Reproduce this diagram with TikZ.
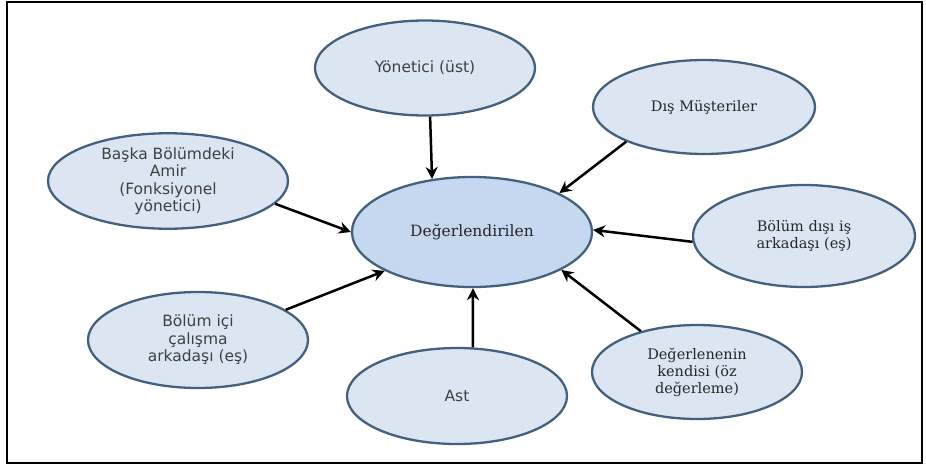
\documentclass[tikz,border=0pt]{standalone}
\usepackage{fontspec}
\setmainfont{DejaVu Serif}
\setsansfont{DejaVu Sans}
\usetikzlibrary{positioning,shapes.geometric,arrows.meta}

\definecolor{bubblefill}{HTML}{DCE6F2}
\definecolor{centerfill}{HTML}{C6D8EF}
\definecolor{bubbleline}{HTML}{43617F}

\tikzset{
  bubble/.style={ellipse, draw=bubbleline, line width=2.3pt, fill=bubblefill,
    inner sep=0pt, align=center, text=black!85,
    font=\fontsize{14.5}{17}\selectfont},
  sansbubble/.style={bubble, text=black!75,
    font=\sffamily\fontsize{15.5}{17.5}\selectfont},
  feedback/.style={-{Stealth[length=12pt,width=12pt]}, line width=2.5pt},
}

\begin{document}
\begin{tikzpicture}[x=1pt, y=-1pt, on grid]
        \useasboundingbox (0,0) rectangle (926,466);
        \draw[line width=2.5pt] (7,2) rectangle (922,463);

        \node[bubble, fill=centerfill, minimum width=240pt, minimum height=110pt,
          font=\fontsize{15.5}{17}\selectfont]
          (deg) at (472,232) {Değerlendirilen};
        \node[sansbubble, minimum width=220pt, minimum height=95pt,
          above left=164pt and 47pt of deg] (yon) {Yönetici (üst)};
        \node[bubble, minimum width=222pt, minimum height=94pt,
          above right=125pt and 232pt of deg] (dis) {Dış Müşteriler};
        \node[sansbubble, minimum width=240pt, minimum height=92pt,
          above left=51pt and 304pt of deg] (baska)
          {Başka Bölümdeki\\Amir\\(Fonksiyonel\\yönetici)};
        \node[bubble, minimum width=222pt, minimum height=102pt,
          below right=4pt and 332pt of deg] (bdis) {Bölüm dışı iş\\arkadaşı (eş)};
        \node[sansbubble, minimum width=220pt, minimum height=96pt,
          below left=108pt and 274pt of deg] (bici)
          {Bölüm içi\\çalışma\\arkadaşı (eş)};
        \node[sansbubble, minimum width=220pt, minimum height=96pt,
          below left=164pt and 15pt of deg] (ast) {Ast};
        \node[bubble, minimum width=210pt, minimum height=94pt,
          below right=140pt and 225pt of deg] (kendi)
          {Değerlenenin\\kendisi (öz\\değerleme)};

        \draw[feedback] (yon.-84) -- (deg.127);
        \draw[feedback] (dis.204) -- (deg.24);
        \draw[feedback] (baska.-12) -- (deg.180);
        \draw[feedback] (bdis.183) -- (deg.1);
        \draw[feedback] (bici.19) -- (deg.204);
        \draw[feedback] (ast.72) -- (deg.-89);
        \draw[feedback] (kendi.144) -- (deg.-23);
\end{tikzpicture}
\end{document}
